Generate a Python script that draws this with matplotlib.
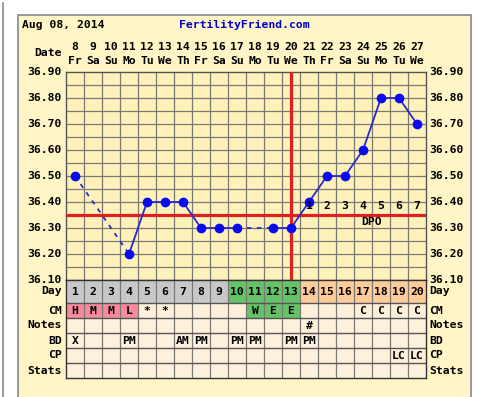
import numpy as np
import matplotlib.pyplot as plt
from matplotlib.patches import Rectangle

# chart data
dates = [8, 9, 10, 11, 12, 13, 14, 15, 16, 17, 18, 19, 20, 21, 22, 23, 24, 25, 26, 27]
weekdays = ["Fr", "Sa", "Su", "Mo", "Tu", "We", "Th", "Fr", "Sa", "Su",
            "Mo", "Tu", "We", "Th", "Fr", "Sa", "Su", "Mo", "Tu", "We"]
cycle_days = list(range(1, 21))
temps = [36.50, None, None, 36.20, 36.40, 36.40, 36.40, 36.30, 36.30, 36.30,
         None, 36.30, 36.30, 36.40, 36.50, 36.50, 36.60, 36.80, 36.80, 36.70]
coverline = 36.35
ovulation_day = 13
dpo_labels = ["1", "2", "3", "4", "5", "6", "7"]
cm = ["H", "M", "M", "L", "*", "*", "", "", "", "", "W", "E", "E", "", "", "", "C", "C", "C", "C"]
notes = [""] * 13 + ["#"] + [""] * 6
bd = ["X", "", "", "PM", "", "", "AM", "PM", "", "PM", "PM", "", "PM", "PM", "", "", "", "", "", ""]
cp = [""] * 18 + ["LC", "LC"]
stats = [""] * 20
day_phase = ["gray"] * 9 + ["green"] * 4 + ["orange"] * 7
cm_phase = ["pink"] * 4 + [""] * 6 + ["green"] * 3 + [""] * 7
ytick_vals = [36.90, 36.80, 36.70, 36.60, 36.50, 36.40, 36.30, 36.20, 36.10]

W, H = 483, 397
fig = plt.figure(figsize=(W / 100, H / 100), dpi=100)
fig.patch.set_facecolor("white")

FONT = "DejaVu Sans Mono"
FS = 8.2
GRID = "#7A7A72"
FRAME_BG = "#FFF5C6"
CELL_BG = "#FEF2BA"
TABLE_BG = "#FDF1DC"
phase_colors = {"gray": "#C8C8C8", "green": "#66C266", "orange": "#FFCB99", "pink": "#F98A9E"}


def fx(x):
    return x / W


def fy(y):
    return 1 - y / H


def ftext(x, y, s, **kw):
    kw.setdefault("fontsize", FS)
    kw.setdefault("fontweight", "bold")
    kw.setdefault("family", FONT)
    kw.setdefault("va", "center")
    fig.text(fx(x), fy(y), s, **kw)


# background frame
bg = fig.add_axes([0, 0, 1, 1])
bg.set_xlim(0, W)
bg.set_ylim(H, 0)
bg.axis("off")
bg.add_patch(Rectangle((18, 15), 453, 400, facecolor=FRAME_BG, edgecolor="#888888", lw=1.2))
bg.plot([3, 3], [3, H], color="#888888", lw=1.2)

ftext(22, 25, "Aug 08, 2014", ha="left")
ftext(244, 25, "FertilityFriend.com", ha="center", color="#0000CC")

# temperature chart
left, right, top, bottom = 66, 426, 72, 280
ax = fig.add_axes([fx(left), fy(bottom), (right - left) / W, (bottom - top) / H])
ax.set_facecolor(CELL_BG)
ax.set_xlim(0.5, 20.5)
ax.set_ylim(36.10, 36.90)
for x in np.arange(1.5, 20.5, 1):
    ax.axvline(x, color=GRID, lw=0.9)
for y in np.arange(36.15, 36.90, 0.05):
    ax.axhline(y, color=GRID, lw=0.9)
ax.set_xticks([])
ax.set_yticks([])
for s in ax.spines.values():
    s.set_color("#555555")
    s.set_linewidth(1)

ax.axhline(coverline, color="#E02020", lw=2.3, zorder=3)
ax.axvline(ovulation_day, color="#E02020", lw=2.3, zorder=3)

# connect recorded temps; gaps are drawn dashed
known = [(d, t) for d, t in zip(cycle_days, temps) if t is not None]
for (d0, t0), (d1, t1) in zip(known[:-1], known[1:]):
    ls = "-" if d1 - d0 == 1 else (0, (2.5, 3))
    ax.plot([d0, d1], [t0, t1], color="#2A2AC8", lw=1.3, ls=ls, zorder=4)
ax.plot([d for d, t in known], [t for d, t in known], "o", color="#0A0AF0", ms=6, zorder=5)

for i, lab in enumerate(dpo_labels):
    ax.text(ovulation_day + 1 + i, 36.385, lab, ha="center", va="center",
            family=FONT, fontweight="bold", fontsize=FS, zorder=6)
ax.text(17.5, 36.322, "DPO", ha="center", va="center", family=FONT,
        fontweight="bold", fontsize=FS, zorder=6)

# axis labels on both sides
for v in ytick_vals:
    yp = top + (36.90 - v) / 0.8 * (bottom - top)
    ftext(62, yp, f"{v:.2f}", ha="right")
    ftext(429, yp, f"{v:.2f}", ha="left")

# date header
for i, (d, wd) in enumerate(zip(dates, weekdays)):
    xc = left + (i + 0.5) * 18
    ftext(xc, 47, str(d), ha="center")
    ftext(xc, 61, wd, ha="center")
ftext(62, 53, "Date", ha="right")

# table below
row_names = ["Day", "CM", "Notes", "BD", "CP", "Stats"]
row_edges = [0, 23, 38, 53, 68, 83, 98]
tb_top = 280
tb = fig.add_axes([fx(left), fy(tb_top + row_edges[-1]), (right - left) / W, row_edges[-1] / H])
tb.set_xlim(0.5, 20.5)
tb.set_ylim(row_edges[-1], 0)
tb.set_facecolor(TABLE_BG)
tb.set_xticks([])
tb.set_yticks([])
for s in tb.spines.values():
    s.set_color("#333333")
    s.set_linewidth(1)

rows = [[str(d) for d in cycle_days], cm, notes, bd, cp, stats]
fills = [day_phase, cm_phase, [""] * 20, [""] * 20, [""] * 20, [""] * 20]
for r, (vals, fl) in enumerate(zip(rows, fills)):
    y0, y1 = row_edges[r], row_edges[r + 1]
    for i, (v, f) in enumerate(zip(vals, fl)):
        if f:
            tb.add_patch(Rectangle((i + 0.5, y0), 1, y1 - y0, facecolor=phase_colors[f], lw=0))
        if v:
            tb.text(i + 1, (y0 + y1) / 2 + 0.5, v, ha="center", va="center", family=FONT,
                    fontweight="bold", fontsize=FS)
    ftext(62, tb_top + (y0 + y1) / 2, row_names[r], ha="right")
    ftext(429, tb_top + (y0 + y1) / 2, row_names[r], ha="left")

for x in np.arange(1.5, 20.5, 1):
    tb.axvline(x, color=GRID, lw=0.9)
for y in row_edges[1:-1]:
    tb.axhline(y, color="#555555", lw=1)

fig.savefig("out.png", dpi=100)
